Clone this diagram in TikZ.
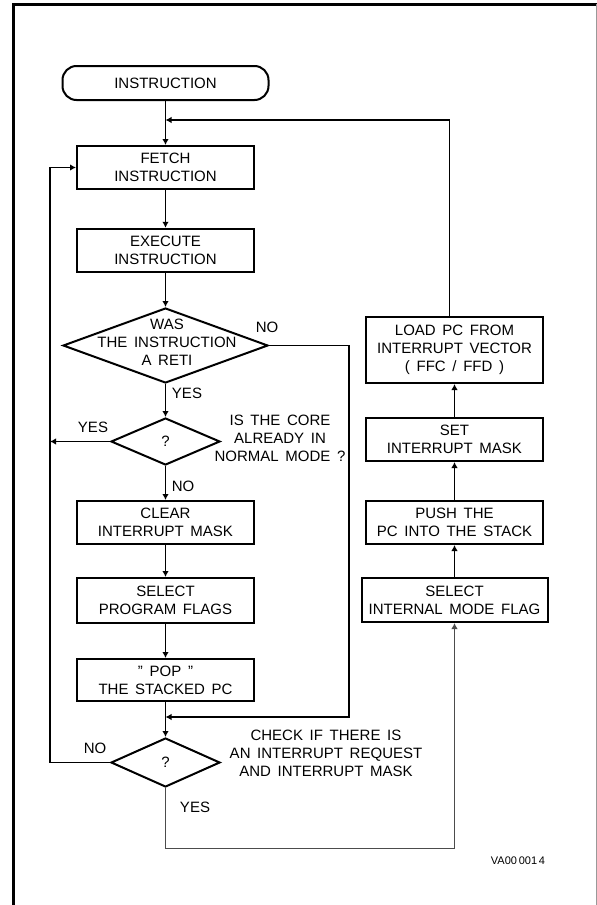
\documentclass[tikz,border=0pt]{standalone}
\usepackage{fontspec}
\setmainfont[WordSpace=1.6]{Liberation Sans}
\usetikzlibrary{shapes.geometric,arrows.meta,calc}
\begin{document}
\begin{tikzpicture}[x=1pt,y=-1pt,
  every node/.style={font=\fontsize{15}{18}\selectfont, inner sep=0pt},
  box/.style={draw, line width=2pt, minimum width=177pt, minimum height=43pt, align=center},
  term/.style={draw, line width=2pt, rounded corners=14pt, minimum width=206pt, minimum height=34pt},
  dia/.style={draw, diamond, line width=2pt, inner sep=0pt},
  lbl/.style={align=center},
  conn/.style={line width=1.8pt},
  arr/.style={conn, -{Latex[length=6pt,width=6.5pt]}},
  thinarr/.style={line width=1.1pt, draw=black!70, -{Latex[length=6pt,width=6.5pt]}},
]
\useasboundingbox (0,0) rectangle (597,905);
% frame
\draw[line width=3pt] (13,905) -- (13,4) -- (597,4);
\draw[black!40, line width=0.8pt] (596,4) -- (596,905);

% left column
\node[term] (start) at (165.5,83) {INSTRUCTION};
\node[box] (fetch) at (165.5,167.5) {FETCH\\INSTRUCTION};
\node[box, line width=2.4pt] (exec) at (165.5,250.5) {EXECUTE\\INSTRUCTION};
\node[dia, minimum width=205pt, minimum height=75pt] (d1) at (165.5,345.5) {};
\node[lbl] (d1t) at (167,342) {WAS\\THE INSTRUCTION\\A RETI};
\node[dia, minimum width=109pt, minimum height=47pt] (d2) at (165.5,441.5) {};
\node (d2t) at (d2) {?};
\node[box] (clear) at (165.5,522.5) {CLEAR\\INTERRUPT MASK};
\node[box, minimum height=45pt] (prog) at (165.5,600.5) {SELECT\\PROGRAM FLAGS};
\node[box, minimum height=42pt] (pop) at (165.5,680) {\symbol{34} POP \symbol{34}\\THE STACKED PC};
\node[dia, minimum width=109pt, minimum height=49pt] (d3) at (165.5,762.5) {};
\node (d3t) at (d3) {?};

% right column
\node[box, minimum height=66pt] (load) at (454.5,350) {LOAD PC FROM\\INTERRUPT VECTOR\\( FFC / FFD )};
\node[box] (setm) at (454.5,439.5) {SET\\INTERRUPT MASK};
\node[box] (push) at (454.5,522.5) {PUSH THE\\PC INTO THE STACK};
\node[box, minimum width=186pt, minimum height=44pt] (selint) at (454.5,600) {SELECT\\INTERNAL MODE FLAG};

% labels
\node (no1) at (267,327) {NO};
\node (yes1) at (187,393) {YES};
\node (yes2) at (93,427) {YES};
\node[lbl] (q2) at (280,438) {IS THE CORE\\ALREADY IN\\NORMAL MODE ?};
\node (no2) at (183,486) {NO};
\node (no3) at (95,748) {NO};
\node (yes3) at (195,807) {YES};
\node[lbl] (q3) at (326,753) {CHECK IF THERE IS\\AN INTERRUPT REQUEST\\AND INTERRUPT MASK};
\node[font=\fontsize{11}{13}\selectfont] (ref) at (518,861) {VA00\,001\,4};

% coordinates
\coordinate (j1) at (165.5,120);
\coordinate (j2) at (165.5,717);
\coordinate (rb) at (349,717);
\coordinate (lx) at (50,441.5);
\coordinate (lb) at (50,762.5);

% connectors
\draw[arr] (start) -- (fetch);
\draw[arr] ([xshift=-5pt]load.north) |- (j1);
\draw[arr] (fetch) -- (exec);
\draw[arr] (exec) -- (d1);
\draw[arr] (d1) -- (d2);
\draw[arr] (d2) -- (clear);
\draw[arr] (clear) -- (prog);
\draw[arr] (prog) -- (pop);
\draw[arr] (pop) -- (d3);
\draw[arr] (d1.east) -| (rb) -- (j2);
\draw[arr] (d2.west) -- (lx);
\draw[arr] (d3.west) -- (lb) |- (fetch.west);
\draw[thinarr] (d3.south) -- ++(0,60.5) -| (selint.south);
\draw[arr] (selint) -- (push);
\draw[arr] (push) -- (setm);
\draw[arr] (setm) -- (load);
\end{tikzpicture}
\end{document}
